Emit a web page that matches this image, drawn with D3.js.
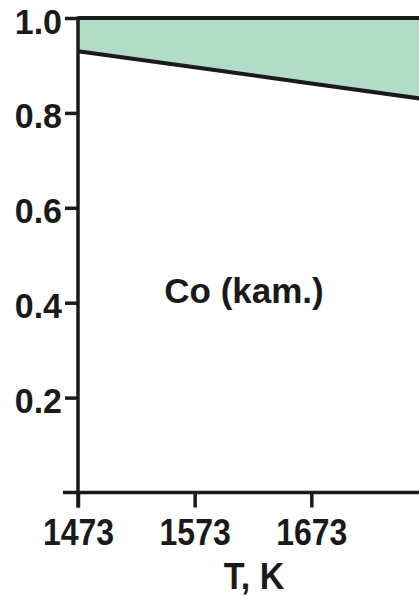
<!DOCTYPE html>
<html>
<head>
<meta charset="utf-8">
<script src="https://cdn.jsdelivr.net/npm/d3@7"></script>
<style>
  html, body { margin: 0; padding: 0; background: #fff; }
  svg { display: block; }
  text { font-family: "Liberation Sans", Arial, sans-serif; font-weight: bold; fill: #1a1a1a; }
</style>
</head>
<body>
<svg id="chart" width="419" height="597"></svg>
<script>
// Temperature (K) and the fraction bounding the shaded region
const temperatures = [1473, 1573, 1673, 1773];
const fraction = [0.93, 0.896, 0.862, 0.828];
const upperBound = [1, 1, 1, 1];
const xTicks = [1473, 1573, 1673];
const yTicks = [0.2, 0.4, 0.6, 0.8, 1.0];
const xLabel = "T, K";
const panelLabel = "Co (kam.)";

const svg = d3.select("#chart");
const ink = "#1a1a1a";

const x = d3.scaleLinear().domain([1473, 1773]).range([78, 428]);
const y = d3.scaleLinear().domain([0, 1]).range([492.5, 18]);

const rows = temperatures.map((t, i) => ({ t, lo: fraction[i], hi: upperBound[i] }));

// shaded band between the curve and unity
svg.append("path")
  .datum(rows)
  .attr("fill", "#b3dcc8")
  .attr("d", d3.area().x(d => x(d.t)).y0(d => y(d.lo)).y1(d => y(d.hi)));

// upper boundary
svg.append("path")
  .datum(rows)
  .attr("fill", "none").attr("stroke", ink).attr("stroke-width", 4)
  .attr("d", d3.line().x(d => x(d.t)).y(d => y(d.hi)));

// curve
svg.append("path")
  .datum(rows)
  .attr("fill", "none").attr("stroke", ink).attr("stroke-width", 4)
  .attr("d", d3.line().x(d => x(d.t)).y(d => y(d.lo)));

// y axis: ticks from d3, labels set slightly below each tick
const yAxis = svg.append("g")
  .attr("transform", `translate(${x(1473)},0)`)
  .call(d3.axisLeft(y).tickValues(yTicks).tickFormat(d3.format(".1f")).tickSize(13));
yAxis.select(".domain").remove();
yAxis.selectAll("line").attr("stroke", ink).attr("stroke-width", 3.5);
yAxis.selectAll(".tick text")
  .attr("x", -16).attr("y", 0).attr("dy", null)
  .attr("font-size", 34).attr("fill", ink)
  .attr("transform", "translate(0,15) scale(1,1.03)")
  .style("font-family", "'Liberation Sans', Arial, sans-serif").style("font-weight", "bold");
svg.append("line")
  .attr("x1", x(1473)).attr("x2", x(1473))
  .attr("y1", y(1) - 1.5).attr("y2", y(0) + 15)
  .attr("stroke", ink).attr("stroke-width", 3.5);

// x axis
const xAxis = svg.append("g")
  .attr("transform", `translate(0,${y(0)})`)
  .call(d3.axisBottom(x).tickValues(xTicks).tickFormat(d3.format("d")).tickSize(15));
xAxis.select(".domain").remove();
xAxis.selectAll("line").attr("stroke", ink).attr("stroke-width", 3.5);
xAxis.selectAll(".tick text")
  .attr("y", 0).attr("dy", null)
  .attr("font-size", 32).attr("fill", ink)
  .attr("transform", "translate(0,52.5) scale(1,1.15)")
  .style("font-family", "'Liberation Sans', Arial, sans-serif").style("font-weight", "bold");
svg.append("line")
  .attr("x1", x(1473) - 15).attr("x2", x(1773))
  .attr("y1", y(0)).attr("y2", y(0))
  .attr("stroke", ink).attr("stroke-width", 3.5);

// axis title
svg.append("text")
  .attr("transform", "translate(254,589) scale(1,1.1)")
  .attr("text-anchor", "middle").attr("font-size", 34)
  .text(xLabel);

// panel label
svg.append("text")
  .attr("x", 244).attr("y", 303)
  .attr("text-anchor", "middle").attr("font-size", 35)
  .text(panelLabel);
</script>
</body>
</html>
